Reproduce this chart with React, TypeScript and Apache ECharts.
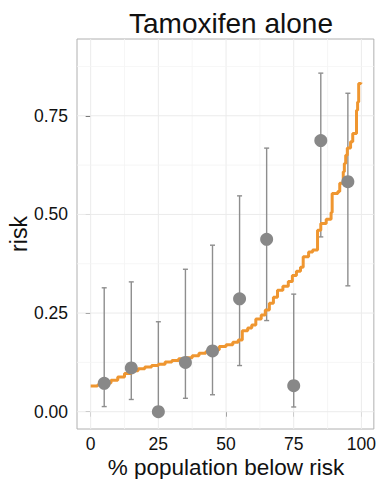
import React, { useEffect, useRef } from "react";
import * as echarts from "echarts";

const xMajor = [0, 25, 50, 75, 100];
const xMinor = [12.5, 37.5, 62.5, 87.5];
const yMajor = [0, 0.25, 0.5, 0.75];
const yMinor = [0.125, 0.375, 0.625, 0.875];

const groupX = [5, 15, 25, 35, 45, 55, 65, 75, 85, 95];
const observedRisk = [0.072, 0.111, 0.0, 0.125, 0.154, 0.286, 0.437, 0.066, 0.687, 0.583];
const ciLow = [0.013, 0.031, 0.0, 0.034, 0.043, 0.117, 0.231, 0.012, 0.443, 0.319];
const ciHigh = [0.314, 0.329, 0.228, 0.361, 0.422, 0.547, 0.668, 0.298, 0.858, 0.807];

const stepX = [
  0, 2.5, 5, 7.5, 10, 12.5, 15, 17.5, 20, 22.5, 25, 27.5, 30, 32.5, 35, 37.5, 40, 42.5, 45, 47.5,
  50, 52.5, 54.5, 56, 58, 59.5, 61, 63, 64.5, 66, 67.5, 69, 71, 73, 74.5, 76, 77.5, 78.5, 80.5,
  82, 83.8, 85, 87, 88.8, 89.2, 91.3, 92, 93.3, 93.7, 94.2, 94.8, 96, 96.8, 98.2, 98.6, 99, 99.8,
];
const stepY = [
  0.065, 0.068, 0.073, 0.08, 0.088, 0.097, 0.104, 0.109, 0.113, 0.117, 0.12, 0.126, 0.13, 0.134,
  0.137, 0.142, 0.148, 0.152, 0.157, 0.165, 0.17, 0.176, 0.182, 0.205, 0.212, 0.22, 0.235, 0.245,
  0.258, 0.275, 0.29, 0.308, 0.318, 0.33, 0.345, 0.356, 0.366, 0.393, 0.405, 0.41, 0.46, 0.477,
  0.488, 0.505, 0.553, 0.558, 0.579, 0.608, 0.629, 0.65, 0.668, 0.684, 0.705, 0.764, 0.785, 0.832,
  0.834,
];

const FONT = "'Liberation Sans', Arial, Helvetica, sans-serif";

export default function App() {
  const ref = useRef<HTMLDivElement>(null);
  useEffect(() => {
    if (!ref.current) return;
    const chart = echarts.init(ref.current, null, { renderer: "svg" });
    const gridData: number[][] = [
      ...xMajor.map((v) => [v, 0, 1]),
      ...xMinor.map((v) => [v, 0, 0]),
      ...yMajor.map((v) => [v, 1, 1]),
      ...yMinor.map((v) => [v, 1, 0]),
    ];
    chart.setOption({
      animation: false,
      textStyle: { fontFamily: FONT },
      title: {
        text: "Tamoxifen alone",
        left: 226,
        top: 4,
        textAlign: "center",
        textStyle: { fontSize: 28, fontWeight: "normal", color: "#111", fontFamily: FONT },
      },
      grid: {
        left: 77,
        top: 39,
        width: 298,
        height: 390,
        show: true,
        borderColor: "#b0b0b0",
        borderWidth: 1,
        backgroundColor: "#fff",
      },
      xAxis: {
        type: "value",
        min: -5.05,
        max: 104.6,
        axisLine: { show: false },
        splitLine: { show: false },
        axisTick: { show: true, length: 5, lineStyle: { color: "#555" }, customValues: xMajor },
        axisLabel: {
          customValues: xMajor,
          margin: 6,
          fontSize: 17.5,
          lineHeight: 17,
          color: "#111",
          fontFamily: FONT,
          formatter: (v: number) => String(v),
        },
      },
      yAxis: {
        type: "value",
        min: -0.0438,
        max: 0.9445,
        axisLine: { show: false },
        splitLine: { show: false },
        axisTick: { show: true, length: 5, lineStyle: { color: "#555" }, customValues: yMajor },
        axisLabel: {
          customValues: yMajor,
          margin: 9,
          fontSize: 17.5,
          color: "#111",
          fontFamily: FONT,
          formatter: (v: number) => v.toFixed(2),
        },
      },
      graphic: [
        {
          type: "text",
          x: 226,
          y: 467,
          style: {
            text: "% population below risk",
            fontSize: 22.5,
            lineHeight: 22,
            fontFamily: FONT,
            fill: "#111",
            textAlign: "center",
            textVerticalAlign: "middle",
          },
        },
        {
          type: "text",
          x: 19,
          y: 234,
          rotation: Math.PI / 2,
          style: {
            text: "risk",
            fontSize: 23,
            fontFamily: FONT,
            fill: "#111",
            textAlign: "center",
            textVerticalAlign: "middle",
          },
        },
      ],
      series: [
        {
          type: "custom",
          clip: false,
          silent: true,
          z: 1,
          data: gridData,
          renderItem: (params: any, api: any) => {
            const v = api.value(0);
            const isY = api.value(1) === 1;
            const major = api.value(2) === 1;
            const cs = params.coordSys;
            const style = { stroke: major ? "#ebebeb" : "#f4f4f4", lineWidth: major ? 1 : 0.8 };
            if (isY) {
              const c = api.coord([0, v])[1];
              return { type: "line", shape: { x1: cs.x, y1: c, x2: cs.x + cs.width, y2: c }, style };
            }
            const c = api.coord([v, 0])[0];
            return { type: "line", shape: { x1: c, y1: cs.y, x2: c, y2: cs.y + cs.height }, style };
          },
        },
        {
          type: "custom",
          silent: true,
          z: 2,
          data: groupX.map((x, i) => [x, ciLow[i], ciHigh[i]]),
          encode: { x: 0, y: [1, 2] },
          renderItem: (params: any, api: any) => {
            const x = api.value(0);
            const p1 = api.coord([x, api.value(1)]);
            const p2 = api.coord([x, api.value(2)]);
            const w = 2.5;
            const style = { stroke: "#8e8e8e", lineWidth: 1.4 };
            return {
              type: "group",
              children: [
                { type: "line", shape: { x1: p1[0], y1: p1[1], x2: p2[0], y2: p2[1] }, style },
                { type: "line", shape: { x1: p1[0] - w, y1: p1[1], x2: p1[0] + w, y2: p1[1] }, style },
                { type: "line", shape: { x1: p2[0] - w, y1: p2[1], x2: p2[0] + w, y2: p2[1] }, style },
              ],
            };
          },
        },
        {
          type: "line",
          step: "end",
          z: 3,
          silent: true,
          showSymbol: false,
          symbol: "none",
          data: stepX.map((x, i) => [x, stepY[i]]),
          lineStyle: { color: "#ef9630", width: 3 },
        },
        {
          type: "scatter",
          z: 4,
          silent: true,
          symbolSize: 13,
          data: groupX.map((x, i) => [x, observedRisk[i]]),
          itemStyle: { color: "#888888", opacity: 1 },
        },
      ],
    });
    return () => chart.dispose();
  }, []);
  return (
    <div
      ref={ref}
      style={{ position: "fixed", left: 0, top: 0, width: 379, height: 479, background: "#fff" }}
    />
  );
}
